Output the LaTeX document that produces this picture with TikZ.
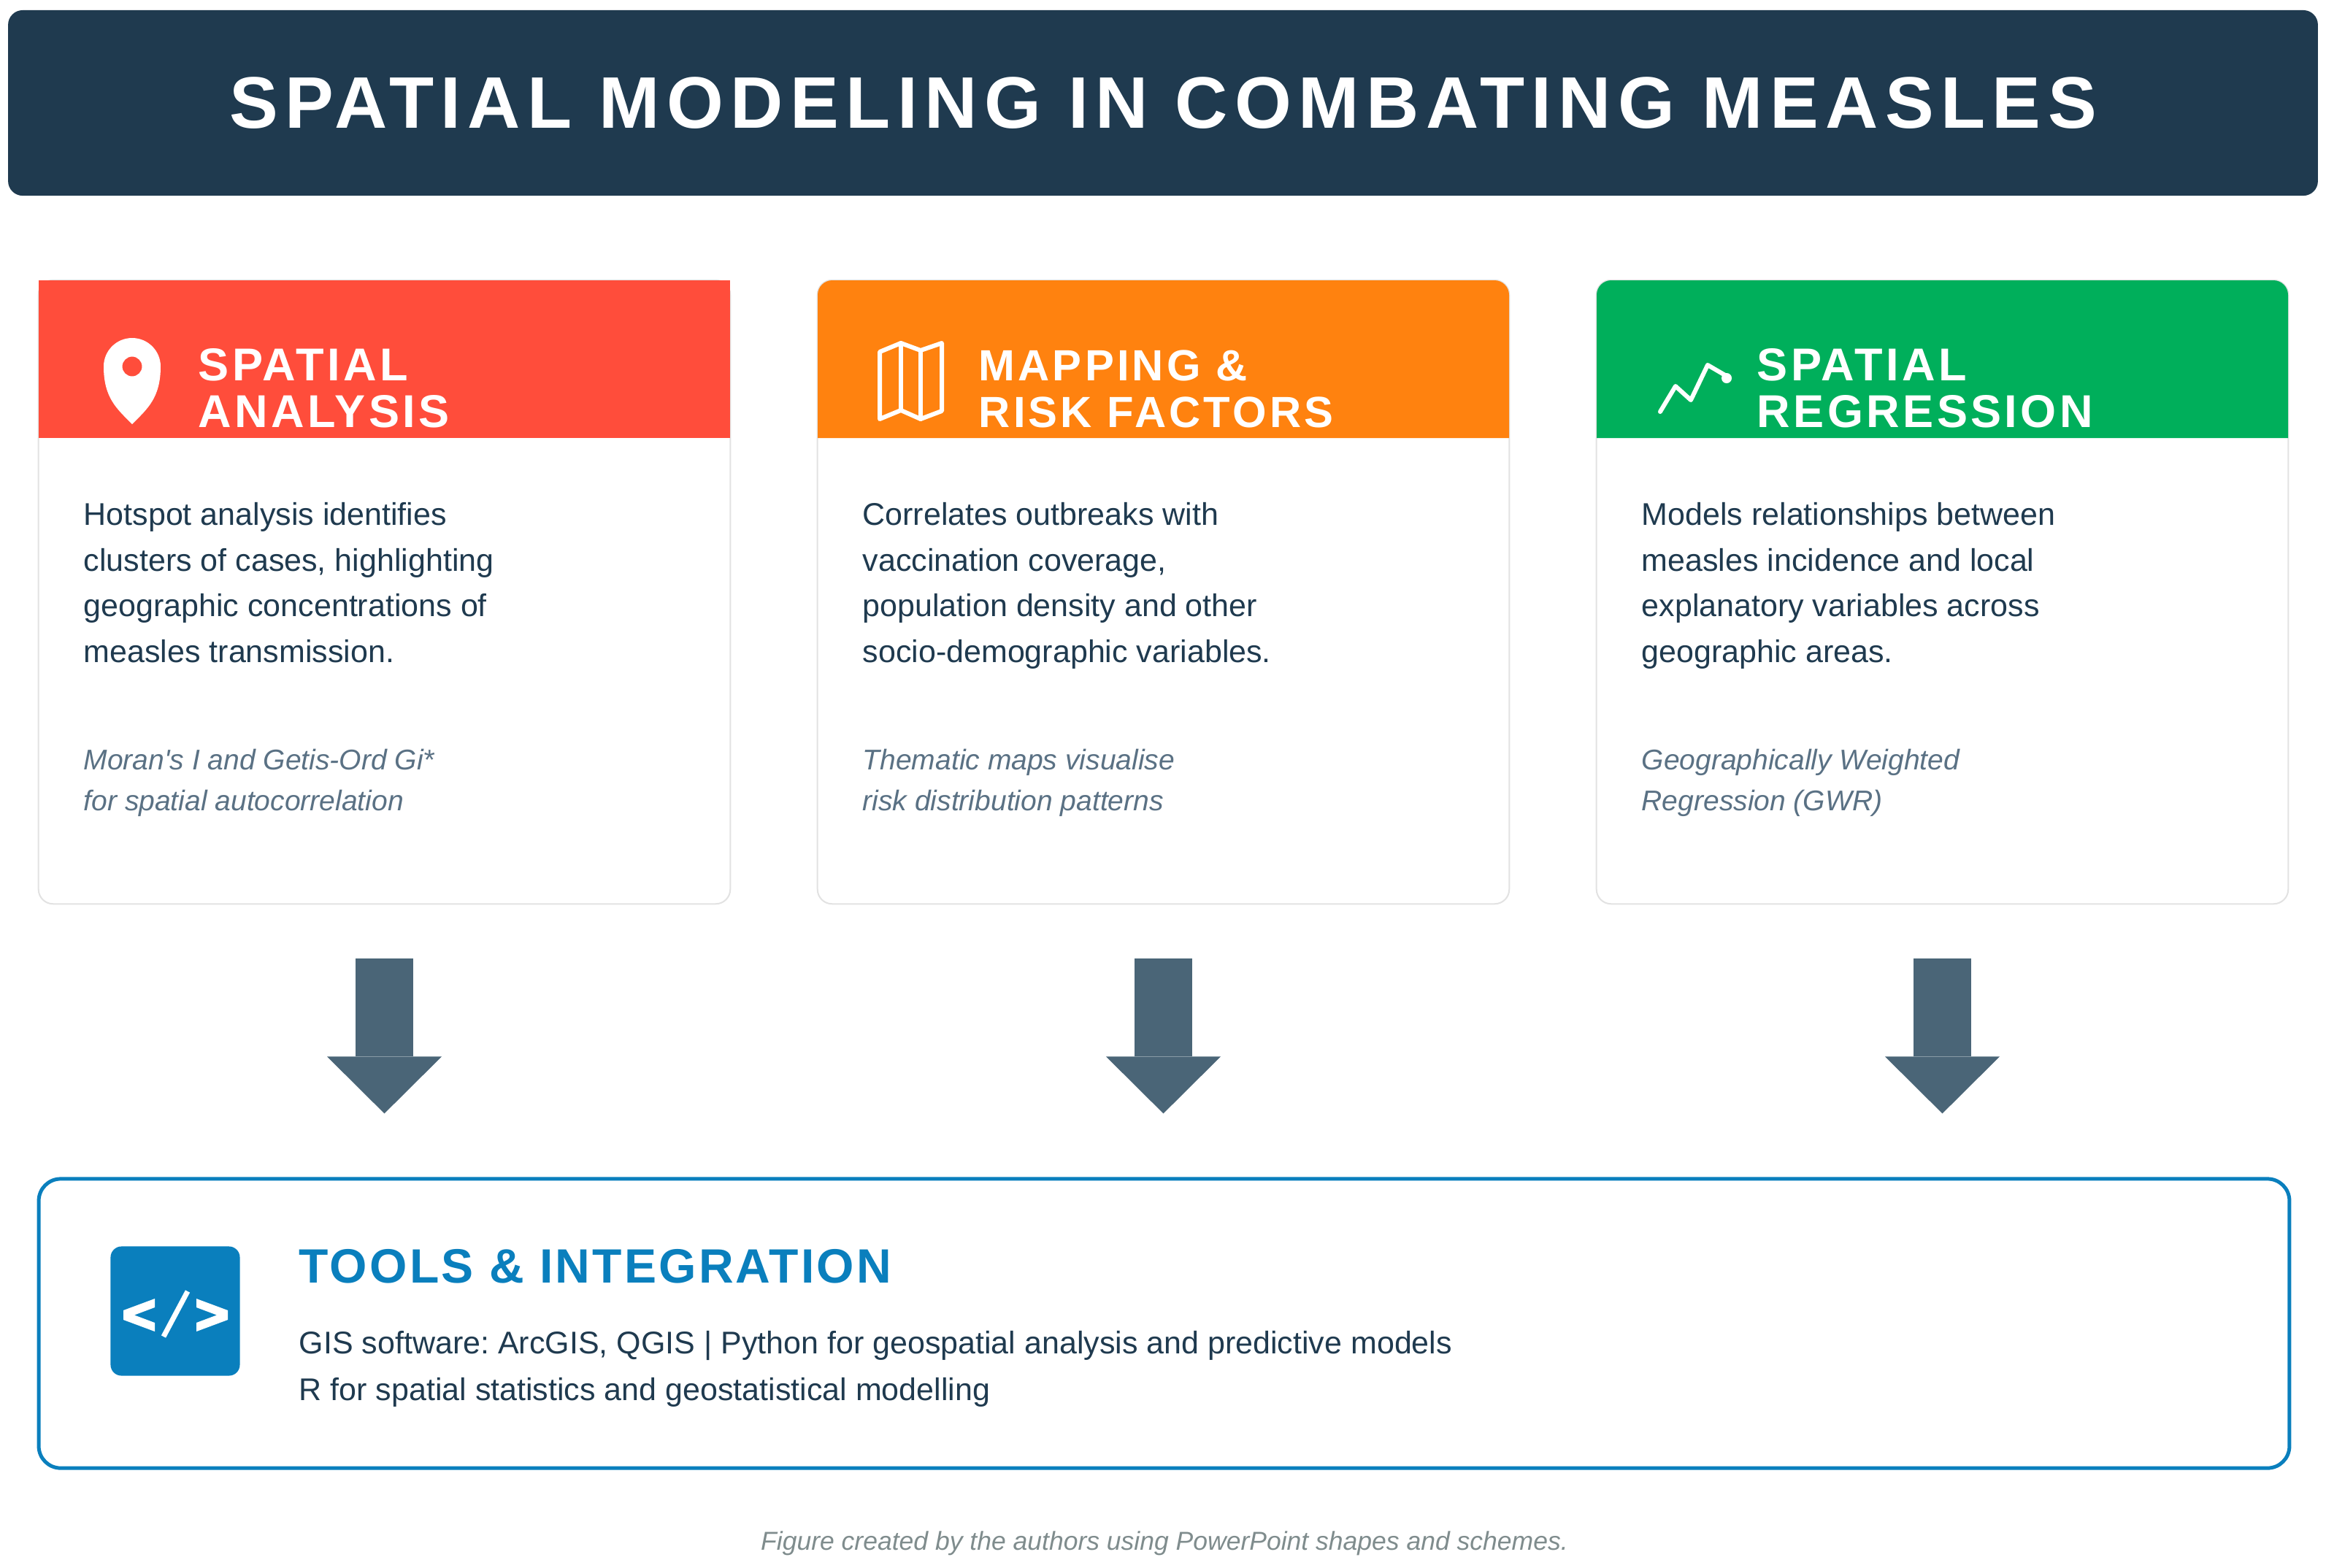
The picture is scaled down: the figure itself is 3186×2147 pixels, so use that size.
\documentclass[tikz,border=0pt]{standalone}
\usepackage{fontspec}
\setmainfont{Liberation Sans}
\newfontfamily\bannerfont[LetterSpace=9.4]{Liberation Sans}
\newfontfamily\headfont[LetterSpace=7]{Liberation Sans}
\newfontfamily\toolfont[LetterSpace=4.8]{Liberation Sans}
\usetikzlibrary{math}
\usetikzlibrary{calc}
\usetikzlibrary{arrows.meta}
\frenchspacing

\definecolor{navy}{HTML}{1F3A4F}
\definecolor{hotred}{HTML}{FF4D3B}
\definecolor{maporange}{HTML}{FF820F}
\definecolor{reggreen}{HTML}{00AF5B}
\definecolor{slate}{HTML}{4A6577}
\definecolor{toolblue}{HTML}{0A7FBD}
\definecolor{notegray}{HTML}{5A7184}
\definecolor{footgray}{HTML}{7F8C8D}
\definecolor{cardline}{HTML}{E2E2E2}

\tikzset{
  card/.style={draw=cardline, line width=0.02cm, fill=white, rounded corners=0.2cm,
    minimum width=9.47cm, minimum height=8.54cm, inner sep=0pt},
  cardtitle/.style={anchor=base west, inner sep=0pt, align=left, text=white,
    font=\headfont\bfseries\fontsize{17.93pt}{17.93pt}\selectfont},
  cardbody/.style={anchor=base west, inner sep=0pt, align=left, text=navy,
    font=\fontsize{12.23pt}{17.78pt}\selectfont},
  cardnote/.style={anchor=base west, inner sep=0pt, align=left, text=notegray,
    font=\itshape\fontsize{11.1pt}{15.65pt}\selectfont},
  icon/.style={draw=white, line width=0.06cm, line join=round, line cap=round},
  flow/.style={slate, line width=0.79cm,
    -{Triangle[length=0.78cm, width=1.57cm, line width=0pt]}},
}

\begin{document}
\begin{tikzpicture}[x=0.01cm, y=-0.01cm]
\useasboundingbox (0,0) rectangle (3186,2147);

% Banner
\node[fill=navy, rounded corners=0.2cm, minimum width=31.62cm, minimum height=2.54cm,
  text=white, font=\bannerfont\bfseries\fontsize{28.45pt}{30pt}\selectfont]
  (banner) at (1593,141) {SPATIAL MODELING IN COMBATING MEASLES};

% Spatial analysis (text nodes sit on their last baseline)
\tikzmath{ \x = 53; }
\node[card] (card1) at (\x + 473.5, 811) {};
\fill[hotred] (\x, 384) rectangle (\x + 947, 600);
\fill[white, even odd rule] (\x + 128, 581) .. controls (\x + 107, 560) and (\x + 89, 545) .. (\x + 89, 502)
  arc[start angle=180, end angle=360, radius=39]
  .. controls (\x + 167, 545) and (\x + 149, 560) .. (\x + 128, 581) -- cycle
  (\x + 128, 502) circle[radius=13.5];
\node[cardtitle] (title1) at (\x + 218, 585) {SPATIAL\\ANALYSIS};
\node[cardbody] (body1) at (\x + 61, 907.5) {Hotspot analysis identifies\\clusters of cases, highlighting\\geographic concentrations of\\measles transmission.};
\node[cardnote] (note1) at (\x + 61, 1110) {Moran\textquotesingle s I and Getis-Ord Gi*\\for spatial autocorrelation};

% Mapping and risk factors
\tikzmath{ \x = 1120; }
\node[card] (card2) at (\x + 473.5, 811) {};
\fill[maporange] (\x, 600) -- (\x, 404) arc[start angle=180, end angle=270, radius=20]
  -- (\x + 927, 384) arc[start angle=270, end angle=360, radius=20] -- (\x + 947, 600) -- cycle;
\draw[icon] (\x + 85, 482) -- (\x + 114, 470) -- (\x + 141, 480) -- (\x + 170, 470)
  -- (\x + 170, 563) -- (\x + 141, 574) -- (\x + 114, 562) -- (\x + 85, 574) -- cycle;
\draw[icon] (\x + 114, 470) -- (\x + 114, 562);
\draw[icon] (\x + 141, 480) -- (\x + 141, 574);
\node[cardtitle, font=\headfont\bfseries\fontsize{17pt}{17.93pt}\selectfont] (title2) at (\x + 220, 585) {MAPPING \&\\RISK FACTORS};
\node[cardbody] (body2) at (\x + 61, 907.5) {Correlates outbreaks with\\vaccination coverage,\\population density and other\\socio-demographic variables.};
\node[cardnote] (note2) at (\x + 61, 1110) {Thematic maps visualise\\risk distribution patterns};

% Spatial regression
\tikzmath{ \x = 2187; }
\node[card] (card3) at (\x + 473.5, 811) {};
\fill[reggreen] (\x, 600) -- (\x, 404) arc[start angle=180, end angle=270, radius=20]
  -- (\x + 927, 384) arc[start angle=270, end angle=360, radius=20] -- (\x + 947, 600) -- cycle;
\draw[icon] (\x + 87, 564) -- (\x + 108, 529) -- (\x + 129, 548) -- (\x + 152, 500) -- (\x + 176, 514);
\fill[white] (\x + 178, 518) circle[radius=7];
\node[cardtitle] (title3) at (\x + 219, 585) {SPATIAL\\REGRESSION};
\node[cardbody] (body3) at (\x + 61, 907.5) {Models relationships between\\measles incidence and local\\explanatory variables across\\geographic areas.};
\node[cardnote] (note3) at (\x + 61, 1110) {Geographically Weighted\\Regression (GWR)};

% Tools and integration
\node[draw=toolblue, line width=0.05cm, rounded corners=0.3cm, minimum width=30.81cm,
  minimum height=3.96cm] (tools) at (1594.5, 1813) {};
\node[fill=toolblue, rounded corners=0.15cm, minimum size=1.77cm, inner sep=0pt] (code) at (240, 1796) {};
\fill[white] (169, 1795) -- (212, 1779) -- (212, 1791) -- (184, 1801.5) -- (212, 1812) -- (212, 1824) -- (169, 1808) -- cycle;
\fill[white] (312, 1795) -- (269, 1779) -- (269, 1791) -- (297, 1801.5) -- (269, 1812) -- (269, 1824) -- (312, 1808) -- cycle;
\draw[white, line width=0.07cm] (257, 1769) -- (224, 1831);
\node[anchor=base west, inner sep=0pt, text=toolblue,
  font=\toolfont\bfseries\fontsize{18.78pt}{20pt}\selectfont] (toolstitle) at (409, 1757) {TOOLS \& INTEGRATION};
\node[cardbody, font=\fontsize{12.23pt}{17.93pt}\selectfont] (toolsbody) at (409, 1918) {GIS software: ArcGIS, QGIS | Python for geospatial analysis and predictive models\\R for spatial statistics and geostatistical modelling};

% Arrows
\draw[flow] ($(card1.south) + (0, 74)$) -- ($(card1.south |- tools.north) + (0, -87)$);
\draw[flow] ($(card2.south) + (0, 74)$) -- ($(card2.south |- tools.north) + (0, -87)$);
\draw[flow] ($(card3.south) + (0, 74)$) -- ($(card3.south |- tools.north) + (0, -87)$);

% Footer
\node[anchor=base, inner sep=0pt, text=footgray, font=\itshape\fontsize{10.1pt}{12pt}\selectfont]
  (footer) at (1595, 2123) {Figure created by the authors using PowerPoint shapes and schemes.};

\end{tikzpicture}
\end{document}
